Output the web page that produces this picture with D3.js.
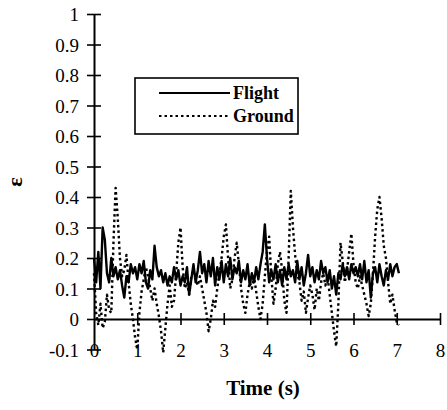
<!DOCTYPE html>
<html>
<head>
<meta charset="utf-8">
<script src="https://cdn.jsdelivr.net/npm/d3@7"></script>
<style>
body { margin: 0; background: #fff; }
</style>
</head>
<body>
<div id="chart"></div>
<script>
// sample step of both records (s)
var dt = 0.05;
var serifFont = "'Liberation Serif', 'Times New Roman', Times, 'Nimbus Roman', 'Nimbus Roman No9 L', FreeSerif, 'Noto Serif', 'DejaVu Serif', serif";

var flight = [0.20,0.12,0.22,0.10,0.30,0.26,0.15,0.12,0.20,0.14,
  0.17,0.13,0.16,0.11,0.07,0.14,0.12,0.18,0.15,0.17,
  0.13,0.18,0.15,0.19,0.12,0.10,0.16,0.13,0.24,0.17,
  0.14,0.16,0.12,0.15,0.11,0.14,0.12,0.17,0.13,0.16,
  0.11,0.14,0.12,0.17,0.08,0.13,0.18,0.12,0.16,0.22,
  0.15,0.18,0.12,0.19,0.14,0.20,0.11,0.17,0.13,0.19,
  0.12,0.18,0.14,0.20,0.13,0.17,0.15,0.19,0.12,0.16,
  0.13,0.18,0.11,0.15,0.12,0.17,0.13,0.18,0.22,0.31,
  0.20,0.12,0.16,0.13,0.18,0.12,0.16,0.11,0.17,0.13,
  0.18,0.14,0.16,0.12,0.19,0.13,0.17,0.11,0.15,0.21,
  0.14,0.17,0.12,0.16,0.13,0.19,0.15,0.17,0.12,0.16,
  0.10,0.14,0.08,0.15,0.13,0.18,0.14,0.17,0.13,0.18,
  0.15,0.17,0.14,0.18,0.13,0.19,0.12,0.16,0.07,0.15,
  0.17,0.12,0.18,0.14,0.11,0.16,0.13,0.18,0.14,0.17,
  0.18,0.15];

var ground = [0.15,0.02,-0.02,0.05,-0.03,-0.01,0.08,0.03,0.02,0.25,
  0.43,0.33,0.20,0.14,0.16,0.21,0.12,0.05,0.00,-0.06,
  -0.10,0.02,0.09,0.13,0.17,0.14,0.10,0.06,0.10,0.05,
  0.01,-0.04,-0.11,-0.03,0.05,0.11,0.04,0.06,0.15,0.25,
  0.30,0.17,0.10,0.12,0.08,0.14,0.16,0.13,0.11,0.14,
  0.10,0.06,0.02,-0.04,0.00,0.06,0.04,0.10,0.15,0.20,
  0.27,0.31,0.20,0.10,0.13,0.20,0.25,0.18,0.10,0.05,
  0.02,0.08,0.12,0.10,0.14,0.09,0.04,0.00,0.05,0.14,
  0.22,0.27,0.14,0.05,0.10,0.18,0.22,0.16,0.06,0.02,
  0.20,0.42,0.30,0.21,0.15,0.12,0.06,0.09,0.02,0.07,
  0.11,0.08,0.03,0.10,0.06,0.12,0.15,0.11,0.14,0.08,
  0.02,-0.04,-0.09,0.05,0.25,0.19,0.12,0.16,0.22,0.28,
  0.18,0.12,0.10,0.14,0.11,0.08,0.05,0.01,0.05,0.15,
  0.27,0.36,0.40,0.33,0.24,0.20,0.12,0.05,0.08,0.03,
  -0.01,-0.02];

var xTicks = [0,1,2,3,4,5,6,7,8];
var yTicks = [-0.1,0,0.1,0.2,0.3,0.4,0.5,0.6,0.7,0.8,0.9,1];
var series = [{name: "Flight", values: flight, dash: null},
              {name: "Ground", values: ground, dash: "2.5,3"}];

var svg = d3.select("#chart").append("svg").attr("width", 447).attr("height", 410);

var x = d3.scaleLinear().domain([0, 8]).range([94, 440]);
var y = d3.scaleLinear().domain([-0.1, 1]).range([349.5, 14]);

// y axis, ticks cross the line
var yAxis = svg.append("g")
    .attr("transform", "translate(" + x(0) + ",0)")
    .call(d3.axisLeft(y).tickValues(yTicks).tickSizeOuter(0)
      .tickFormat(function(d){ return (d == 1 || d == 0) ? String(d) : d.toFixed(1); }));
yAxis.attr("font-family", serifFont).attr("font-size", 19);
yAxis.select(".domain").attr("stroke-width", 2);
yAxis.selectAll(".tick line").attr("x1", -7).attr("x2", 7).attr("stroke-width", 1.6);
yAxis.selectAll(".tick text").attr("x", -15).attr("dy", "0.35em");

// x axis at zero
var xAxis = svg.append("g")
    .attr("transform", "translate(0," + y(0) + ")")
    .call(d3.axisBottom(x).tickValues(xTicks).tickSizeOuter(0));
xAxis.attr("font-family", serifFont).attr("font-size", 19);
xAxis.select(".domain").attr("stroke-width", 2);
xAxis.selectAll(".tick line").attr("y1", -6).attr("y2", 6).attr("stroke-width", 1.6)
    .filter(function(d){ return d == 0; }).remove();
xAxis.selectAll(".tick text").attr("y", 38).attr("dy", 0);

var line = d3.line()
    .x(function(d, i){ return x(i * dt); })
    .y(function(d){ return y(d); });

svg.selectAll(".series")
    .data(series)
    .enter().append("path")
    .attr("d", function(d){ return line(d.values); })
    .attr("fill", "none")
    .attr("stroke", "#000")
    .attr("stroke-width", function(d){ return d.dash ? 2.4 : 2.4; })
    .attr("stroke-dasharray", function(d){ return d.dash; })
    .attr("stroke-linejoin", "round");

// legend
var lg = svg.append("g").attr("font-family", serifFont);
lg.append("rect").attr("x", 135).attr("y", 78).attr("width", 163).attr("height", 56)
    .attr("fill", "#fff").attr("stroke", "#000").attr("stroke-width", 1.6);
series.forEach(function(s, i){
  var ly = 93 + i * 23;
  lg.append("line").attr("x1", 159).attr("x2", 230).attr("y1", ly).attr("y2", ly)
    .attr("stroke", "#000").attr("stroke-width", s.dash ? 2 : 1.8)
    .attr("stroke-dasharray", s.dash);
  lg.append("text").attr("x", 233).attr("y", ly + 6).attr("font-size", 18)
    .attr("font-weight", "bold").text(s.name);
});

svg.append("text").attr("x", 263).attr("y", 395).attr("text-anchor", "middle")
    .attr("font-family", serifFont)
    .attr("font-size", 21).attr("font-weight", "bold").text("Time (s)");

svg.append("text").attr("transform", "translate(22,182) rotate(-90)")
    .attr("font-family", serifFont)
    .attr("text-anchor", "middle").attr("font-size", 22).attr("font-weight", "bold")
    .text("ε");
</script>
</body>
</html>
